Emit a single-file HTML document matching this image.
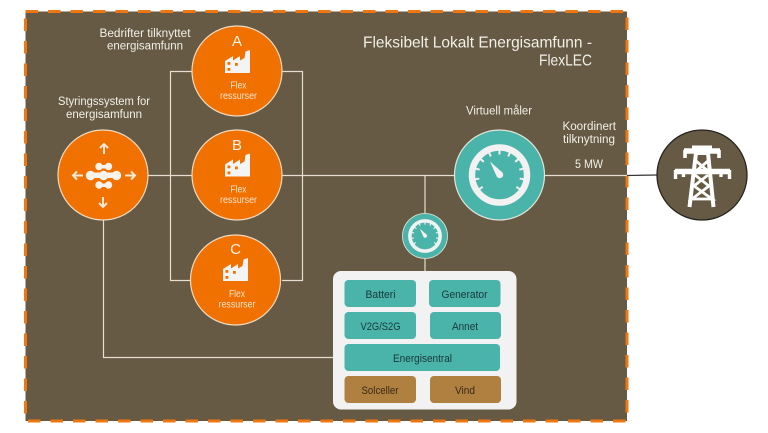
<!DOCTYPE html>
<html lang="no">
<head>
<meta charset="utf-8">
<title>Fleksibelt Lokalt Energisamfunn - FlexLEC</title>
<style>
html,body{margin:0;padding:0;background:#fff;width:768px;height:433px;overflow:hidden}
svg{display:block;filter:blur(0.35px)}
text{font-family:"Liberation Sans",sans-serif;fill:#f2efe8}
.s{font-size:11.500px}
.n{font-size:10px;fill:#fbe3cc;text-anchor:middle}
.l{font-size:15px;fill:#fdf3e8;text-anchor:middle}
.b{font-size:11px;fill:#17393a}
.w{font-size:11px;fill:#3a2a12}
</style>
</head>
<body>
<svg width="768" height="433" viewBox="0 0 768 433" xmlns="http://www.w3.org/2000/svg">
<defs>
  <g id="factory">
    <path d="M0 23V11L8 6V10.500L15 6V10.500L19.500 8L20.500 1.500L25 0V23Z" fill="#f4f4f4"/>
    <rect x="2.500" y="12" width="2.800" height="2.800" fill="#f07000"/>
    <rect x="2.500" y="18" width="2.800" height="2.800" fill="#f07000"/>
    <rect x="10" y="13" width="2.800" height="2.800" fill="#f07000"/>
  </g>
  <g id="gauge">
    <circle r="27.500" fill="none" stroke="#f2f2f2" stroke-width="6.500"/>
    <g stroke="#f2f2f2" stroke-width="2">
      <path d="M0-25V-20.500" transform="rotate(-125)"/>
      <path d="M0-25V-20.500" transform="rotate(-100)"/>
      <path d="M0-25V-20.500" transform="rotate(-75)"/>
      <path d="M0-25V-20.500" transform="rotate(-50)"/>
      <path d="M0-25V-20.500" transform="rotate(-25)"/>
      <path d="M0-25V-20.500"/>
      <path d="M0-25V-20.500" transform="rotate(25)"/>
      <path d="M0-25V-20.500" transform="rotate(50)"/>
      <path d="M0-25V-20.500" transform="rotate(75)"/>
      <path d="M0-25V-20.500" transform="rotate(100)"/>
      <path d="M0-25V-20.500" transform="rotate(125)"/>
    </g>
    <path d="M-9.500-13.500L3.200-2.200A3.300 3.300 0 0 1 -2.800 1.500Z" fill="#f2f2f2"/>
  </g>
</defs>

<rect x="25.500" y="11.500" width="601.500" height="409.500" fill="#665a44"/>
<rect x="25.500" y="11.500" width="601.500" height="409.500" fill="none" stroke="#ee7712" stroke-width="3" stroke-dasharray="12.500 10"/>

<g fill="none" stroke="#e6dfd0" stroke-width="1.200">
  <path d="M192 71.500H170.500V280.500H192"/>
  <path d="M282 71.500H302.500V280.500H282"/>
  <path d="M148 175.500H627"/>
  <path d="M425 175.500V214"/>
  <path d="M425 258V272"/>
  <path d="M103.500 220V357.500H344"/>
</g>
<path d="M627 175.500L657 175" stroke="#333" stroke-width="1.200" fill="none"/>

<g fill="#f07000" stroke="#f3dcc0" stroke-width="1.200">
  <circle cx="237" cy="71" r="45"/>
  <circle cx="237" cy="175" r="45"/>
  <circle cx="235.500" cy="280" r="45"/>
  <circle cx="103" cy="175" r="45"/>
</g>

<text class="l" x="237" y="46">A</text>
<use href="#factory" x="225" y="50"/>
<text class="n" x="238.500" y="88.500" textLength="16" lengthAdjust="spacingAndGlyphs">Flex</text>
<text class="n" x="238.500" y="99" textLength="37" lengthAdjust="spacingAndGlyphs">ressurser</text>

<text class="l" x="237" y="150">B</text>
<use href="#factory" x="225" y="153.500"/>
<text class="n" x="238.500" y="192.500" textLength="16" lengthAdjust="spacingAndGlyphs">Flex</text>
<text class="n" x="238.500" y="203" textLength="37" lengthAdjust="spacingAndGlyphs">ressurser</text>

<text class="l" x="235.500" y="254">C</text>
<use href="#factory" x="223" y="258"/>
<text class="n" x="237" y="297" textLength="16" lengthAdjust="spacingAndGlyphs">Flex</text>
<text class="n" x="237" y="307.500" textLength="37" lengthAdjust="spacingAndGlyphs">ressurser</text>

<g fill="#f7f2ea">
  <rect x="89" y="172.500" width="28" height="5.500" rx="2.700"/>
  <circle cx="90.500" cy="175.500" r="4.700"/>
  <circle cx="103.500" cy="175.500" r="4.700"/>
  <circle cx="116.500" cy="175.500" r="4.700"/>
  <rect x="96" y="165" width="15" height="3.500" rx="1.700"/>
  <circle cx="99" cy="166.500" r="3.700"/>
  <circle cx="108.500" cy="166.500" r="3.700"/>
  <rect x="96" y="183.500" width="15" height="3.500" rx="1.700"/>
  <circle cx="99" cy="185" r="3.700"/>
  <circle cx="108.500" cy="185" r="3.700"/>
</g>
<g fill="none" stroke="#f7e8d6" stroke-width="2">
  <path d="M104 154V144M100 148L104 144L108 148"/>
  <path d="M103 197V207M99 203L103 207L107 203"/>
  <path d="M83 175.500H73M77 171.500L73 175.500L77 179.500"/>
  <path d="M125 175.500H135M131 171.500L135 175.500L131 179.500"/>
</g>

<circle cx="499.500" cy="175" r="45" fill="#4ab3aa" stroke="#e2e6d8" stroke-width="1.200"/>
<use href="#gauge" transform="translate(499.500 175)"/>
<circle cx="425" cy="236" r="22.500" fill="#4ab3aa" stroke="#e2e6d8" stroke-width="0.800"/>
<use href="#gauge" transform="translate(425 236) scale(0.55)"/>

<circle cx="702" cy="175" r="45" fill="#665a44" stroke="#262420" stroke-width="1.300"/>
<g fill="none" stroke="#fff" stroke-linejoin="miter">
  <path d="M689.500 207L696 153H708L713.500 207" stroke-width="4"/>
  <path d="M696 161L708 171M708 161L696 171M695 175L709 186L692 199H712L694 186L708 175" stroke-width="2.800"/>
  <path d="M684 151H720" stroke-width="5.500"/>
  <path d="M685 150V158M719 150V158" stroke-width="3.600"/>
  <path d="M692 147H712" stroke-width="3"/>
  <path d="M675 171.500H730" stroke-width="5.500"/>
  <path d="M675.500 170V179M683.500 170V177M721 170V177M729.500 170V179" stroke-width="3.400"/>
</g>

<text class="s" x="99.500" y="37" textLength="91" lengthAdjust="spacingAndGlyphs">Bedrifter tilknyttet</text>
<text class="s" x="107" y="49.500" textLength="76" lengthAdjust="spacingAndGlyphs">energisamfunn</text>
<text class="s" x="58" y="105" textLength="92" lengthAdjust="spacingAndGlyphs">Styringssystem for</text>
<text class="s" x="66" y="118" textLength="76" lengthAdjust="spacingAndGlyphs">energisamfunn</text>
<text x="363" y="47.500" font-size="16" textLength="229" lengthAdjust="spacingAndGlyphs">Fleksibelt Lokalt Energisamfunn -</text>
<text x="539" y="65.500" font-size="16" textLength="53" lengthAdjust="spacingAndGlyphs">FlexLEC</text>
<text class="s" x="466" y="114.500" textLength="66" lengthAdjust="spacingAndGlyphs">Virtuell måler</text>
<text class="s" x="562.500" y="130" textLength="53.500" lengthAdjust="spacingAndGlyphs">Koordinert</text>
<text class="s" x="563" y="143" textLength="52" lengthAdjust="spacingAndGlyphs">tilknytning</text>
<text class="s" x="575" y="168" textLength="28" lengthAdjust="spacingAndGlyphs">5 MW</text>

<rect x="333" y="271" width="183.500" height="138.500" rx="8" fill="#f2f2f2"/>
<g fill="#4ab3aa">
  <rect x="344.500" y="280" width="71.500" height="27" rx="4"/>
  <rect x="429" y="280" width="71.500" height="27" rx="4"/>
  <rect x="344.500" y="312" width="71.500" height="27" rx="4"/>
  <rect x="430" y="312" width="71" height="27" rx="4"/>
  <rect x="344.500" y="344" width="155.500" height="27" rx="4"/>
</g>
<g fill="#b08040">
  <rect x="344.500" y="376" width="71.500" height="27" rx="4"/>
  <rect x="430" y="376" width="71" height="27" rx="4"/>
</g>
<text class="b" x="365.500" y="298" textLength="30" lengthAdjust="spacingAndGlyphs">Batteri</text>
<text class="b" x="441.500" y="298" textLength="46" lengthAdjust="spacingAndGlyphs">Generator</text>
<text class="b" x="360.500" y="330" textLength="40" lengthAdjust="spacingAndGlyphs">V2G/S2G</text>
<text class="b" x="452" y="330" textLength="26" lengthAdjust="spacingAndGlyphs">Annet</text>
<text class="b" x="393" y="362" textLength="59" lengthAdjust="spacingAndGlyphs">Energisentral</text>
<text class="w" x="361.500" y="394" textLength="37" lengthAdjust="spacingAndGlyphs">Solceller</text>
<text class="w" x="455" y="394" textLength="20" lengthAdjust="spacingAndGlyphs">Vind</text>
</svg>
</body>
</html>
